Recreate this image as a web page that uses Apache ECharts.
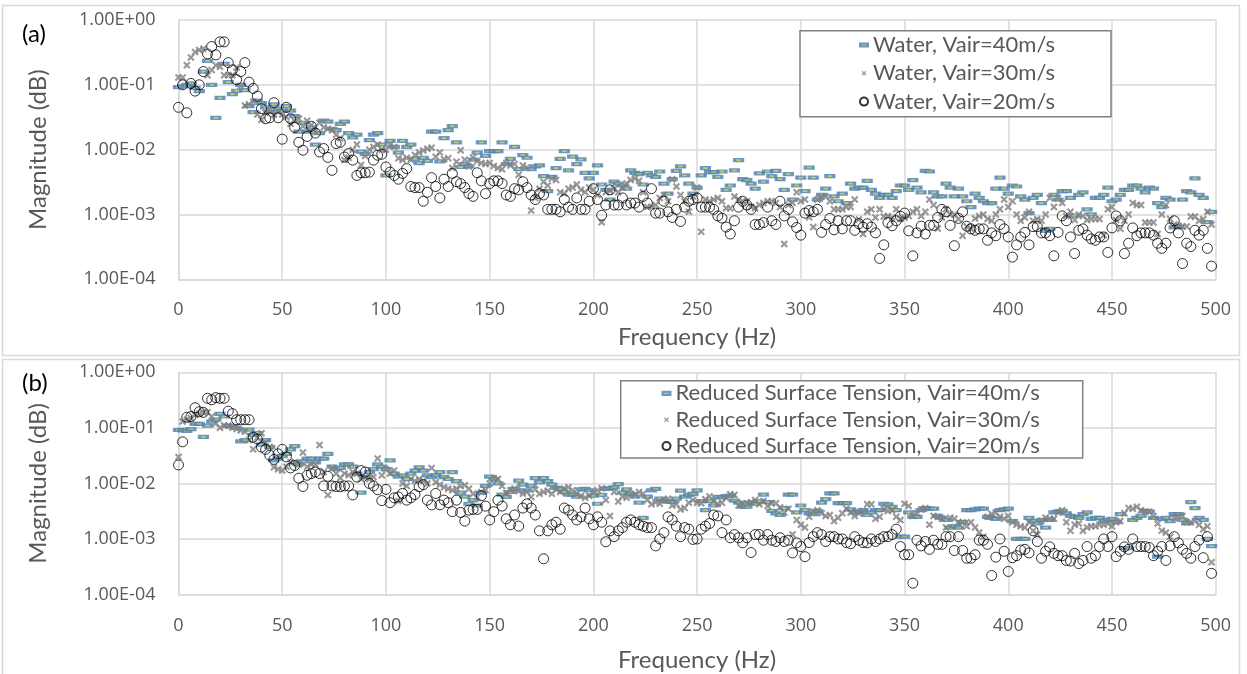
<!DOCTYPE html>
<html>
<head>
<meta charset="utf-8">
<title>Spectra</title>
<script src="https://cdn.jsdelivr.net/npm/echarts@6/dist/echarts.min.js"></script>
<style>
  html, body { margin: 0; padding: 0; background: #ffffff; }
  #chart { width: 1247px; height: 674px; }
</style>
</head>
<body>
<div id="chart"></div>
<script>
// Spectral bins: 0 to 498 Hz, 2 Hz apart
const FREQ_STEP = 2;
const BIN_COUNT = 250;
// All magnitudes below are stored in units of 1e-3
const UNIT = 1e-3;

const xTickValues = [0, 50, 100, 150, 200, 250, 300, 350, 400, 450, 500];

const seriesNamesWater = ['Water, Vair=40m/s', 'Water, Vair=30m/s', 'Water, Vair=20m/s'];
const seriesNamesSurf = ['Reduced Surface Tension, Vair=40m/s', 'Reduced Surface Tension, Vair=30m/s', 'Reduced Surface Tension, Vair=20m/s'];

// (a) water
const waterV40 = [
  92, 95, 100, 105, 90, 80, 160, 235, 100, 31,
  63, 210, 110, 72, 81, 100, 83, 47, 38, 57,
  52, 45, 38, 50, 43, 40, 47, 40, 33, 19,
  26, 19, 22, 12, 18, 28, 27, 21, 20, 25,
  27, 18, 15.5, 17, 9.3, 8.5, 14, 17, 18, 12,
  4, 13.7, 11, 9, 13.7, 11, 12, 7.2, 6.2, 7.5,
  6.7, 19, 19, 6.6, 15, 20, 23, 13, 5.4, 6,
  5.5, 7, 9, 13, 8, 9.5, 9.5, 9.5, 13, 6,
  7.2, 11, 5, 8.2, 7.5, 5, 5.5, 5.7, 3.9, 2.3,
  3.8, 5.2, 7.2, 9.5, 4.8, 7.8, 6, 7.1, 4.4, 3.6,
  4.4, 5.7, 2.9, 2.4, 1.7, 3.2, 3, 2.8, 2.5, 4.8,
  4.4, 4.2, 2.9, 4.4, 4, 3.8, 4.6, 3, 2.1, 3.5,
  4.7, 5.5, 4, 3, 2.1, 2.6, 4, 5.2, 4.5, 4.5,
  3.8, 4.6, 2.4, 2.8, 4.8, 6.9, 3.5, 3.4, 3, 2.5,
  4.3, 3.2, 4.6, 3.9, 4.7, 3.5, 2.4, 4.2, 1.7, 2.8,
  3.7, 2.3, 5.3, 3.7, 1.7, 2, 2.5, 3.9, 1.9, 1.6,
  2.1, 1.5, 3, 2.5, 2.6, 2.6, 3.3, 2.4, 2.1, 1.8,
  2.0, 2.0, 1.8, 2.3, 2.8, 2.8, 2.4, 3.4, 2.6, 2.2,
  4.7, 4.6, 2.2, 1.9, 1.9, 3, 2.6, 1.9, 2.5, 1.9,
  1.6, 1.3, 2.1, 1.8, 1.6, 1.5, 1.5, 2.5, 3.7, 2.5,
  2.1, 2.8, 2.7, 1.9, 1.7, 1.05, 1.8, 2.0, 1.5, 0.56,
  0.6, 2.0, 1.7, 2.3, 2.3, 1.8, 0.96, 2.0, 2.2, 1.2,
  1.0, 1.8, 1.8, 2.0, 2.6, 1.6, 1.7, 2.0, 2.4, 2.4,
  2.8, 2.8, 2.5, 2.2, 2.6, 2.5, 1.5, 1.3, 1.8, 1.7,
  0.63, 0.65, 1.7, 2.3, 2.2, 3.6, 2.0, 1.8, 0.76, 1.1
];
const waterV30 = [
  130, 130, 200, 265, 320, 345, 360, 140, 170, 200,
  190, 140, 140, 140, 185, 96, 48, 50, 55, 35,
  29, 37, 40, 35, 38, 35, 32, 25, 28, 30,
  23, 28, 24, 19, 26, 22, 21, 20, 17, 15,
  6.9, 7.5, 10, 12, 5.8, 8, 10, 11, 12, 10,
  10, 12, 11, 7.4, 6.9, 7.5, 7, 8.3, 9, 9.7,
  10.3, 10.7, 7.8, 9, 7.1, 7.4, 5.2, 6.5, 9.8, 7,
  5.5, 7.6, 6.6, 6.2, 6, 6.2, 5.6, 5.2, 5, 6.2,
  5.7, 6, 4.1, 5.7, 5.3, 1.15, 1.8, 2.5, 3.2, 2.8,
  3.6, 3.4, 2.2, 2.1, 2.5, 2.6, 2.9, 2.4, 2.2, 2.6,
  2.4, 2.0, 0.76, 2.2, 2.3, 2.5, 2.2, 2.6, 3.0, 3.4,
  3.6, 3.3, 2.2, 1.3, 1.3, 1.4, 1.8, 2.0, 1.6, 3.5,
  2.7, 2.0, 1.6, 1.1, 1.9, 2.6, 0.54, 1.7, 1.6, 1.7,
  1.8, 1.6, 1.25, 1.25, 1.9, 1.7, 1.6, 1.6, 1.3, 1.25,
  1.4, 1.5, 1.6, 1.6, 1.5, 1.3, 0.35, 1.4, 1.5, 2.2,
  1.6, 1.7, 0.91, 0.64, 1.7, 1.9, 1.9, 1.6, 1.2, 1.2,
  1.2, 1.3, 1.3, 1.7, 0.84, 0.5, 1.1, 1.2, 0.9, 1.2,
  0.93, 0.95, 0.9, 1.2, 0.85, 0.9, 0.95, 1.1, 1.2, 0.95,
  1.1, 1.7, 1.4, 0.61, 0.9, 1.2, 1.0, 1.0, 0.85, 0.47,
  0.65, 0.6, 0.87, 0.95, 1.0, 0.85, 0.8, 1.0, 1.2, 1.7,
  1.3, 1.6, 1.0, 0.8, 0.9, 1.1, 0.8, 0.85, 0.8, 1.0,
  1.8, 1.3, 1.8, 1.5, 0.95, 1.1, 0.82, 1.0, 0.95, 0.82,
  0.85, 0.85, 0.85, 0.48, 1.2, 1.3, 0.82, 0.6, 0.8, 1.0,
  1.5, 1.4, 1.4, 0.75, 0.75, 0.75, 0.5, 1.0, 1.4, 0.85,
  0.7, 0.67, 0.65, 0.65, 0.93, 0.93, 0.8, 0.85, 1.1, 0.7
];
const waterV20 = [
  45, 100, 37, 105, 80, 100, 160, 300, 390, 290,
  460, 460, 220, 170, 120, 160, 220, 110, 88, 67,
  43, 30, 31, 53, 31, 14.5, 45, 30, 22, 13,
  9.8, 16, 23, 18, 9.2, 10.4, 7.6, 4.8, 12.4, 13,
  7.7, 8.7, 6.9, 4.0, 4.4, 4.4, 4.5, 6.9, 8.2, 8.5,
  5.4, 4.5, 4.0, 3.5, 4.3, 5.1, 2.7, 2.6, 2.6, 1.6,
  2.2, 3.7, 2.7, 1.8, 3.5, 2.7, 4.3, 3.2, 3.0, 2.6,
  2.1, 1.9, 4.4, 3.3, 2.1, 3.0, 3.3, 3.3, 3.0, 2.0,
  1.9, 2.5, 2.4, 3.2, 2.6, 2.0, 1.7, 2.1, 2.0, 1.2,
  1.2, 1.2, 1.1, 1.7, 1.3, 1.2, 1.8, 1.2, 1.2, 1.6,
  2.5, 1.7, 0.97, 1.4, 2.4, 1.4, 1.4, 1.8, 1.4, 1.5,
  1.5, 1.3, 1.9, 1.5, 2.5, 1.05, 1.05, 1.6, 1.1, 0.9,
  1.2, 0.78, 1.3, 1.6, 1.7, 1.8, 1.3, 1.3, 1.3, 1.2,
  0.95, 0.88, 0.64, 0.5, 0.8, 1.3, 1.6, 1.4, 1.2, 0.7,
  0.7, 0.75, 1.3, 0.8, 0.7, 1.6, 0.95, 1.2, 0.77, 0.63,
  0.48, 1.05, 1.15, 1.1, 1.2, 0.53, 0.7, 0.87, 0.58, 0.8,
  0.6, 0.8, 0.8, 0.57, 0.72, 0.64, 0.72, 0.64, 0.52, 0.21,
  0.34, 0.75, 0.67, 0.8, 0.94, 1.05, 0.56, 0.23, 0.52, 0.66,
  0.5, 0.68, 0.68, 0.9, 1.2, 1.1, 0.68, 0.33, 0.87, 1.1,
  0.66, 0.6, 0.57, 0.6, 0.6, 0.4, 0.52, 0.47, 0.7, 0.6,
  0.45, 0.22, 0.34, 0.45, 0.53, 0.34, 0.65, 0.65, 0.52, 0.52,
  0.47, 0.23, 0.53, 0.95, 0.8, 0.45, 0.25, 0.57, 0.6, 0.48,
  0.42, 0.4, 0.45, 0.45, 0.26, 0.62, 0.95, 0.8, 0.25, 0.36,
  0.62, 0.47, 0.52, 0.52, 0.52, 0.48, 0.36, 0.3, 0.36, 0.62,
  0.8, 0.52, 0.175, 0.36, 0.32, 0.57, 0.48, 0.57, 0.3, 0.16
];

// (b) reduced surface tension
const surfV40 = [
  92, 90, 88, 95, 118, 118, 69, 110, 130, 140,
  178, 160, 110, 105, 100, 57, 60, 93, 75, 80,
  50, 60, 45, 26, 28, 31, 34, 41, 47, 22,
  25, 28, 28, 24, 28, 28, 34, 20, 18, 19,
  22, 22, 20, 15, 6.8, 13, 16, 18, 22, 20,
  18, 26, 15, 13.2, 14, 12, 15, 17, 19.5, 17,
  14, 13, 14, 16, 13, 12, 16, 11, 6.8, 5.8,
  4.3, 5, 4, 6.8, 9, 13.3, 12, 10, 6.3, 5.7,
  7, 8, 11.2, 9.5, 7.5, 9, 12.4, 10.5, 12.5, 11,
  9.5, 8.3, 8, 7, 6.3, 6.3, 5.8, 7.8, 8, 7.5,
  6, 4.3, 6.2, 8, 8.2, 8.5, 9.7, 6.8, 7.8, 6.5,
  5.8, 4.5, 2.4, 5.8, 7.5, 8, 5.3, 4.8, 4.7, 4.7,
  5.3, 7.4, 5.8, 6.2, 6.5, 7.5, 4.8, 3.3, 4.8, 4.0,
  5.7, 5.6, 5.9, 6.0, 4.9, 4.5, 3.8, 3.8, 4.5, 4.3,
  4.8, 6.3, 4.6, 3.2, 2.9, 2.7, 3.6, 6.3, 6.3, 3.0,
  4.0, 3.3, 2.9, 2.8, 3.2, 4.5, 5.2, 6.6, 6.6, 4.4,
  4.4, 4.4, 3.4, 3.0, 3.1, 3.3, 2.7, 3.0, 3.3, 3.3,
  4.3, 4.2, 3.8, 3.3, 1.1, 1.1, 3.0, 2.5, 2.5, 3.3,
  3.6, 3.5, 3.5, 2.6, 2.4, 2.2, 1.6, 1.7, 1.6, 2.0,
  3.3, 3.3, 3.4, 3.5, 3.5, 2.5, 2.4, 2.3, 3.3, 3.4,
  3.5, 2.1, 1.0, 1.0, 1.0, 2.4, 2.1, 1.9, 2.2, 1.6,
  2.2, 3.0, 3.1, 3.2, 2.9, 2.6, 2.5, 2.4, 2.8, 3.0,
  2.3, 2.4, 2.4, 2.1, 2.2, 2.3, 2.0, 2.8, 0.68, 0.68,
  2.2, 2.4, 2.6, 3.2, 3.1, 2.4, 0.48, 2.3, 2.4, 2.1,
  2.8, 2.8, 2.2, 1.9, 4.6, 3.6, 2.4, 2.2, 1.0, 0.74
];
const surfV30 = [
  30, 130, 140, 150, 170, 180, 190, 190, 160, 120,
  100, 110, 110, 100, 95, 90, 85, 60, 41, 66,
  80, 55, 45, 19.5, 18, 17, 20, 24, 24, 22,
  36, 20, 22, 22, 49, 16, 6.2, 19, 15, 12.5,
  15, 14, 16, 15, 12, 13, 12, 13, 28, 14,
  18, 15, 17, 4.8, 10, 9, 12, 11, 12, 11,
  10, 19, 10.5, 9.5, 8.5, 8, 7.5, 8, 9, 9.3,
  8, 6.5, 5.7, 7, 7.6, 10, 12.4, 12, 9, 6.7,
  7.5, 8, 7.2, 6.5, 7, 5.7, 7.8, 6.5, 7, 7.4,
  6.5, 7.8, 7, 8, 8.5, 7.5, 6.5, 6, 5.5, 6,
  6.8, 7.5, 8.2, 5, 2.6, 7, 4.7, 5.8, 5.5, 6.5,
  6.2, 7, 6.5, 5, 4.2, 4.6, 4.3, 5, 5.3, 4.0,
  4.2, 3.4, 3.6, 4.5, 5, 4.5, 4.4, 5.2, 5.8, 4.8,
  4.3, 4.5, 5.5, 6.4, 6.2, 4.0, 4.2, 4.4, 4.6, 5.0,
  4.2, 4.8, 3.9, 4.4, 4.4, 3.7, 3.0, 3.5, 1.2, 2.2,
  1.8, 1.6, 2.5, 3.1, 3.3, 2.9, 2.6, 2.7, 2.1, 2.4,
  2.9, 3.5, 3.0, 2.6, 2.9, 3.2, 4.2, 4.2, 2.3, 2.5,
  3.5, 3.2, 3.3, 2.5, 2.2, 4.3, 3.9, 2.6, 2.9, 3.4,
  3.6, 1.8, 2.6, 2.5, 2.3, 1.6, 2.4, 2.3, 2.0, 2.0,
  1.7, 2.0, 1.6, 1.3, 1.1, 2.5, 2.8, 3.0, 2.5, 2.3,
  2.6, 2.0, 1.8, 1.7, 1.6, 2.0, 1.4, 1.2, 2.1, 2.4,
  2.3, 2.3, 3.0, 3.3, 2.0, 1.4, 1.8, 1.9, 1.4, 1.6,
  1.7, 1.7, 1.8, 1.8, 1.9, 1.7, 2.0, 2.1, 2.9, 3.6,
  3.5, 3.8, 3.3, 3.1, 3.1, 2.6, 1.9, 1.4, 1.3, 1.1,
  2.4, 2.6, 2.6, 2.0, 2.0, 2.1, 1.8, 1.5, 1.7, 0.38
];
const surfV20 = [
  21.5, 56, 155, 160, 230, 195, 190, 340, 320, 350,
  340, 340, 200, 180, 140, 140, 140, 140, 68, 63,
  45, 41, 32, 27, 34, 41, 30, 19, 21, 12.4,
  8.8, 14, 15, 16, 15, 9, 13.4, 9, 8.8, 8.7,
  9, 9, 6.2, 13, 17, 16, 10, 9, 7.7, 4.9,
  7.8, 4.5, 5.5, 5.7, 6.6, 5, 5.5, 6.3, 8.7, 9.5,
  5, 4.1, 6.6, 4.1, 5, 4.5, 3.1, 5, 3, 2.1,
  3.3, 3.4, 3.4, 6, 3.9, 2.2, 3.1, 5, 3.9, 2.3,
  1.8, 2.7, 1.7, 3.6, 4.3, 3.6, 2.7, 1.4, 0.44, 1.4,
  1.8, 2.0, 1.5, 3.6, 3.3, 2.7, 2.2, 2.5, 3.6, 2.3,
  1.8, 2.5, 2.0, 0.89, 1.4, 1.1, 1.4, 1.6, 2.0, 2.2,
  2.0, 1.8, 1.7, 1.6, 1.6, 0.75, 1.0, 1.3, 2.5, 2.2,
  1.7, 1.1, 1.6, 1.5, 0.98, 1.0, 1.5, 1.7, 1.9, 2.7,
  2.6, 1.3, 2.2, 1.05, 1.2, 1.05, 0.85, 1.05, 0.57, 1.2,
  1.2, 0.95, 1.2, 0.95, 0.9, 1.05, 0.9, 0.95, 0.56, 0.85,
  0.73, 0.48, 0.86, 1.1, 1.3, 1.2, 0.9, 1.1, 1.1, 1.0,
  1.0, 0.86, 0.82, 1.1, 0.95, 0.86, 0.85, 1.0, 0.9, 1.0,
  1.1, 1.1, 1.2, 1.5, 0.73, 0.52, 0.52, 0.16, 0.95, 0.75,
  0.9, 0.65, 0.95, 0.8, 0.8, 1.1, 1.1, 0.62, 1.1, 0.62,
  0.45, 0.45, 0.52, 0.95, 0.95, 0.8, 0.22, 0.47, 1.0, 0.6,
  0.26, 0.46, 0.5, 0.63, 0.65, 0.56, 1.4, 0.9, 0.45, 0.6,
  0.72, 0.55, 0.5, 0.5, 0.41, 0.4, 0.55, 0.36, 0.41, 0.73,
  0.45, 0.5, 0.73, 1.0, 0.73, 1.1, 0.48, 0.6, 0.72, 0.65,
  1.0, 0.73, 0.73, 0.73, 0.7, 0.5, 0.6, 0.73, 0.41, 0.75,
  1.1, 0.85, 0.65, 0.55, 0.45, 0.73, 0.95, 0.46, 1.1, 0.24
];

const freq = Array.from({ length: BIN_COUNT }, (_, i) => i * FREQ_STEP);

// ---- styling ----
const FONT = 'Lato, "Open Sans", sans-serif';
const TICK_FONT = '"Open Sans", Lato, sans-serif';
const TEXT_GREY = '#595959';
const GRID_GREY = '#d9d9d9';

const CROSS = 'path://M0,2L2,0L5,3L8,0L10,2L7,5L10,8L8,10L5,7L2,10L0,8L3,5Z';
// legend icons: the cross sits inside a larger invisible box so it renders small
const CROSS_LEGEND = 'path://M0,0h0.01v0.01zM18,18h0.01v0.01zM3.5,5.5L5.5,3.5L9,7L12.5,3.5L14.5,5.5L11,9L14.5,12.5L12.5,14.5L9,11L5.5,14.5L3.5,12.5L7,9Z';
const DASH_LEGEND = 'path://M0,0h10v4h-10z';

const markerStyles = [
  { symbol: 'rect', symbolSize: [8, 3], itemStyle: { color: '#a8bf55', borderColor: '#4f81bd', borderWidth: 2 } },
  { symbol: CROSS, symbolSize: 7.5, itemStyle: { color: '#7f7f7f' } },
  { symbol: 'circle', symbolSize: 10, itemStyle: { color: 'rgba(0,0,0,0)', borderColor: '#000000', borderWidth: 1 } }
];
const legendIcons = [DASH_LEGEND, CROSS_LEGEND, 'circle'];

function sciLabel(v) {
  const parts = Number(v).toExponential(2).split('e');
  const ex = parseInt(parts[1], 10);
  return parts[0] + 'E' + (ex < 0 ? '-' : '+') + String(Math.abs(ex)).padStart(2, '0');
}

function toPairs(values) {
  return values.map((v, i) => [freq[i], v * UNIT]);
}

// plot areas (pixel layout of the two panels)
const panels = [
  { top: 20, height: 259.3, nameGap: 45.5, names: seriesNamesWater, values: [waterV40, waterV30, waterV20],
    legend: { left: 859, top: 34, gap: 6.3 } },
  { top: 372.3, height: 222.2, nameGap: 53.5, names: seriesNamesSurf, values: [surfV40, surfV30, surfV20],
    legend: { left: 661.5, top: 382.3, gap: 4.4 } }
];

const grids = [], xAxes = [], yAxes = [], series = [], legends = [];
panels.forEach((p, k) => {
  grids.push({ left: 178.5, right: 31.3, top: p.top, height: p.height, containLabel: false, outerBoundsMode: 'none' });
  xAxes.push({
    type: 'value', gridIndex: k, min: 0, max: 500, interval: 50,
    axisLine: { show: true, lineStyle: { color: GRID_GREY, width: 1.5 } },
    axisTick: { show: false },
    splitLine: { show: true, lineStyle: { color: GRID_GREY, width: 1.5 } },
    axisLabel: { color: TEXT_GREY, fontSize: 18, fontFamily: TICK_FONT, margin: 22,
      customValues: xTickValues },
    name: 'Frequency (Hz)', nameLocation: 'middle', nameGap: p.nameGap, nameMoveOverlap: false,
    nameTextStyle: { color: TEXT_GREY, fontSize: 24, fontFamily: FONT }
  });
  yAxes.push({
    type: 'log', logBase: 10, gridIndex: k, min: 1e-4, max: 1,
    axisLine: { show: true, lineStyle: { color: GRID_GREY, width: 1.5 } },
    axisTick: { show: false },
    splitLine: { show: true, lineStyle: { color: GRID_GREY, width: 1.5 } },
    axisLabel: { color: TEXT_GREY, fontSize: 18, fontFamily: TICK_FONT, margin: 23, formatter: sciLabel },
    name: 'Magnitude (dB)', nameLocation: 'middle', nameGap: 128.5, nameRotate: 90, nameMoveOverlap: false,
    nameTextStyle: { color: TEXT_GREY, fontSize: 24, fontFamily: FONT }
  });
  p.names.forEach((name, s) => {
    series.push(Object.assign({
      type: 'scatter', name: name, xAxisIndex: k, yAxisIndex: k,
      data: toPairs(p.values[s]), silent: true, z: 2 + s,
      emphasis: { disabled: true }
    }, markerStyles[s]));
  });
  legends.push({
    orient: 'vertical', left: p.legend.left, top: p.legend.top, padding: 0,
    itemWidth: 8, itemHeight: 8, itemGap: p.legend.gap, selectedMode: false,
    symbolKeepAspect: true,
    textStyle: { color: TEXT_GREY, fontSize: 22, fontFamily: FONT, lineHeight: 22 },
    data: p.names.map((name, s) => ({ name: name, icon: legendIcons[s] }))
  });
});

const chart = echarts.init(document.getElementById('chart'), null, { renderer: 'canvas' });
chart.setOption({
  animation: false,
  backgroundColor: '#ffffff',
  grid: grids,
  xAxis: xAxes,
  yAxis: yAxes,
  legend: legends,
  series: series,
  graphic: [
    // outer frames of the two panels
    { type: 'rect', z: -10, silent: true, shape: { x: 2.5, y: 5.5, width: 1237, height: 350 },
      style: { fill: 'none', stroke: GRID_GREY, lineWidth: 1.5 } },
    { type: 'rect', z: -10, silent: true, shape: { x: 2.5, y: 359.5, width: 1237, height: 320 },
      style: { fill: 'none', stroke: GRID_GREY, lineWidth: 1.5 } },
    // legend frames
    { type: 'rect', z: 1, silent: true, shape: { x: 800, y: 30.7, width: 311, height: 86 },
      style: { fill: '#ffffff', stroke: '#808080', lineWidth: 1.5 } },
    { type: 'rect', z: 1, silent: true, shape: { x: 620.7, y: 380.7, width: 462, height: 77.3 },
      style: { fill: '#ffffff', stroke: '#808080', lineWidth: 1.5 } },
    // panel tags
    { type: 'text', silent: true, left: 22, top: 22,
      style: { text: '(a)', fill: '#000000', font: '24px ' + FONT } },
    { type: 'text', silent: true, left: 22, top: 371,
      style: { text: '(b)', fill: '#000000', font: '24px ' + FONT } }
  ]
});
</script>
</body>
</html>
